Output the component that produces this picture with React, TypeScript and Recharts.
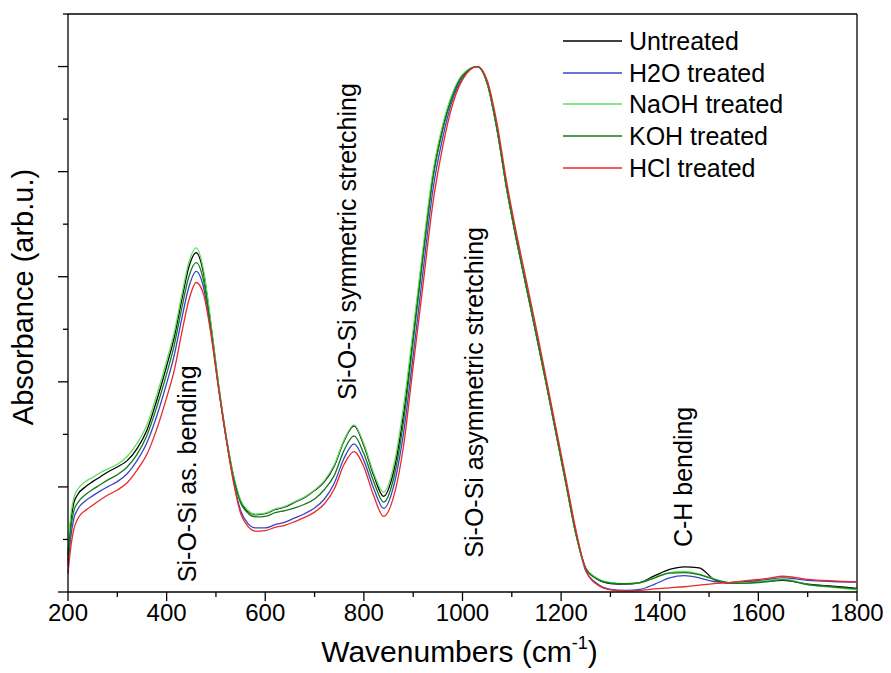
import React from 'react';
import { LineChart, Line, XAxis, YAxis, ReferenceLine, ReferenceDot, Label } from 'recharts';

const FONT = 'Arial, "Liberation Sans", sans-serif';

// wavenumber grid (cm-1)
const wavenumbers = [
  200, 205, 212, 220, 235, 250, 265, 280, 300, 320, 340, 360, 380, 400, 415, 430, 445, 460, 475, 490,
  505, 520, 535, 550, 565, 580, 600, 620, 640, 660, 680, 700, 720, 740, 760, 780, 800, 820, 840, 860,
  880, 900, 920, 940, 960, 980, 1000, 1030, 1050, 1070, 1090, 1110, 1130, 1150, 1170, 1190, 1210, 1230, 1250, 1270,
  1300, 1330, 1360, 1390, 1420, 1450, 1480, 1510, 1540, 1580, 1620, 1650, 1700, 1750, 1800,
];

const untreated = [
  0.07, 0.13, 0.17, 0.186, 0.2, 0.21, 0.219, 0.228, 0.238, 0.25, 0.273, 0.308, 0.365, 0.43, 0.483, 0.553, 0.618, 0.646, 0.606, 0.507,
  0.396, 0.3, 0.223, 0.173, 0.153, 0.147, 0.149, 0.157, 0.162, 0.171, 0.18, 0.193, 0.21, 0.24, 0.288, 0.316, 0.279, 0.222, 0.182, 0.228,
  0.336, 0.487, 0.645, 0.792, 0.885, 0.946, 0.983, 1.0, 0.968, 0.88, 0.765, 0.667, 0.577, 0.487, 0.395, 0.3, 0.205, 0.11, 0.045, 0.027,
  0.016, 0.015, 0.018, 0.031, 0.043, 0.048, 0.046, 0.024, 0.017, 0.018, 0.021, 0.022, 0.015, 0.011, 0.007,
];

const h2o = [
  0.05, 0.1, 0.14, 0.158, 0.173, 0.183, 0.192, 0.2, 0.21, 0.225, 0.25, 0.284, 0.335, 0.397, 0.449, 0.517, 0.58, 0.61, 0.579, 0.494,
  0.39, 0.296, 0.215, 0.155, 0.13, 0.122, 0.122, 0.128, 0.133, 0.141, 0.149, 0.16, 0.177, 0.207, 0.255, 0.282, 0.25, 0.197, 0.159, 0.2,
  0.3, 0.45, 0.61, 0.765, 0.865, 0.937, 0.978, 1.0, 0.97, 0.882, 0.768, 0.67, 0.58, 0.49, 0.398, 0.303, 0.208, 0.112, 0.04, 0.018,
  0.005, 0.003, 0.005, 0.015, 0.027, 0.031, 0.027, 0.02, 0.018, 0.02, 0.024, 0.027, 0.022, 0.02, 0.019,
];

const naoh = [
  0.08, 0.14, 0.18, 0.196, 0.21, 0.218, 0.227, 0.234, 0.243, 0.258, 0.283, 0.318, 0.375, 0.44, 0.492, 0.562, 0.627, 0.655, 0.612, 0.51,
  0.398, 0.302, 0.225, 0.175, 0.155, 0.148, 0.15, 0.158, 0.163, 0.172, 0.181, 0.194, 0.212, 0.242, 0.29, 0.318, 0.282, 0.226, 0.19, 0.238,
  0.35, 0.5, 0.655, 0.8, 0.89, 0.95, 0.985, 1.0, 0.968, 0.88, 0.765, 0.667, 0.577, 0.487, 0.395, 0.3, 0.205, 0.11, 0.045, 0.028,
  0.018, 0.016, 0.018, 0.028, 0.037, 0.039, 0.034, 0.025, 0.018, 0.018, 0.022, 0.025, 0.014, 0.009, 0.004,
];

const koh = [
  0.06, 0.115, 0.155, 0.17, 0.185, 0.195, 0.204, 0.213, 0.223, 0.238, 0.262, 0.298, 0.352, 0.415, 0.468, 0.537, 0.6, 0.627, 0.592, 0.5,
  0.392, 0.297, 0.22, 0.17, 0.15, 0.143, 0.144, 0.151, 0.155, 0.16, 0.167, 0.177, 0.195, 0.222, 0.27, 0.297, 0.263, 0.21, 0.171, 0.215,
  0.322, 0.478, 0.637, 0.786, 0.88, 0.944, 0.982, 1.0, 0.969, 0.881, 0.766, 0.668, 0.578, 0.488, 0.396, 0.301, 0.206, 0.111, 0.045, 0.026,
  0.017, 0.016, 0.018, 0.027, 0.036, 0.037, 0.033, 0.024, 0.018, 0.017, 0.02, 0.023, 0.014, 0.01, 0.006,
];

const hcl = [
  0.035, 0.08, 0.12, 0.14, 0.155, 0.165, 0.175, 0.184, 0.194, 0.208, 0.232, 0.262, 0.31, 0.37, 0.42, 0.49, 0.555, 0.589, 0.566, 0.49,
  0.39, 0.297, 0.212, 0.15, 0.125, 0.116, 0.117, 0.123, 0.127, 0.134, 0.142, 0.152, 0.168, 0.196, 0.243, 0.267, 0.238, 0.183, 0.144, 0.18,
  0.275, 0.43, 0.585, 0.74, 0.848, 0.928, 0.975, 1.0, 0.974, 0.892, 0.778, 0.68, 0.59, 0.5, 0.405, 0.31, 0.215, 0.118, 0.042, 0.016,
  0.004, 0.002, 0.003, 0.006, 0.008, 0.01, 0.013, 0.016, 0.018, 0.022, 0.026, 0.03, 0.024, 0.021, 0.019,
];

const series = [
  { key: 'untreated', name: 'Untreated', color: '#000000', values: untreated },
  { key: 'h2o', name: 'H2O treated', color: '#3a44c4', values: h2o },
  { key: 'naoh', name: 'NaOH treated', color: '#5ee05e', values: naoh },
  { key: 'koh', name: 'KOH treated', color: '#137a17', values: koh },
  { key: 'hcl', name: 'HCl treated', color: '#e8282a', values: hcl },
];

const xTicks = [200, 300, 400, 500, 600, 700, 800, 900, 1000, 1100, 1200, 1300, 1400, 1500, 1600, 1700, 1800];
const yTicks = [0, 0.1, 0.2, 0.3, 0.4, 0.5, 0.6, 0.7, 0.8, 0.9, 1.0, 1.1];

const annotations = [
  { text: 'Si-O-Si as. bending', wn: 441, level: 0.225 },
  { text: 'Si-O-Si symmetric stretching', wn: 766, level: 0.667 },
  { text: 'Si-O-Si asymmetric stretching', wn: 1023, level: 0.38 },
  { text: 'C-H bending', wn: 1447, level: 0.219 },
];

const data = wavenumbers.map((wn, i) => {
  const row: any = { wn };
  series.forEach((s) => {
    row[s.key] = s.values[i];
  });
  return row;
});

function XTick(props: any) {
  const { x, y, payload } = props;
  const major = payload.value % 200 === 0;
  return (
    <g>
      <line x1={x} x2={x} y1={y} y2={y + (major ? 9 : 5)} stroke="#000" strokeWidth={1.3} />
      {major && (
        <text x={x} y={y + 29} textAnchor="middle" fontSize={24} fontFamily={FONT} fill="#000">
          {payload.value}
        </text>
      )}
    </g>
  );
}

function YTick(props: any) {
  const { x, y, payload } = props;
  const major = Math.round(payload.value * 10) % 2 === 0;
  return <line x1={x - (major ? 10 : 5)} x2={x} y1={y} y2={y} stroke="#000" strokeWidth={1.3} />;
}

function XTitle(props: any) {
  const vb = props.viewBox;
  return (
    <text x={vb.x + vb.width / 2 - 3} y={662} textAnchor="middle" fontSize={30} fontFamily={FONT} fill="#000">
      Wavenumbers (cm
      <tspan fontSize={18} dy={-13}>-1</tspan>
      <tspan dy={13}>)</tspan>
    </text>
  );
}

function YTitle(props: any) {
  const vb = props.viewBox;
  const cx = vb.x + 33;
  const cy = 297;
  return (
    <text x={cx} y={cy} transform={`rotate(-90 ${cx} ${cy})`} textAnchor="middle" fontSize={29} fontFamily={FONT} fill="#000">
      Absorbance (arb.u.)
    </text>
  );
}

function AnnotationText(text: string) {
  return (props: any) => {
    const { cx, cy } = props;
    return (
      <text x={cx} y={cy} dy="0.36em" transform={`rotate(-90 ${cx} ${cy})`} textAnchor="middle" fontSize={25} fontFamily={FONT} fill="#000">
        {text}
      </text>
    );
  };
}

function LegendBox() {
  return (
    <div style={{ position: 'absolute', left: 563, top: 25, fontFamily: FONT }}>
      {series.map((s) => (
        <div key={s.key} style={{ display: 'flex', alignItems: 'center', height: 31.7 }}>
          <svg width={59} height={6} style={{ display: 'block' }}>
            <line x1={0} x2={59} y1={3} y2={3} stroke={s.color} strokeWidth={1.6} />
          </svg>
          <span style={{ marginLeft: 7, fontSize: 25, lineHeight: '28px', color: '#000' }}>{s.name}</span>
        </div>
      ))}
    </div>
  );
}

export default function App() {
  return (
    <div style={{ position: 'absolute', left: 0, top: 0, width: 891, height: 673, background: '#fff' }}>
      <LineChart width={891} height={673} data={data} margin={{ top: 14, right: 34, left: 0, bottom: 0 }}>
        <XAxis
          dataKey="wn"
          type="number"
          domain={[200, 1800]}
          ticks={xTicks}
          interval={0}
          height={81}
          tickSize={0}
          tickMargin={0}
          tickLine={false}
          tick={(p: any) => <XTick {...p} />}
          axisLine={{ stroke: '#000', strokeWidth: 1.3 }}
        >
          <Label content={(p: any) => <XTitle {...p} />} />
        </XAxis>
        <YAxis
          type="number"
          domain={[0, 1.1]}
          ticks={yTicks}
          interval={0}
          width={68}
          tickSize={0}
          tickMargin={0}
          tickLine={false}
          tick={(p: any) => <YTick {...p} />}
          axisLine={{ stroke: '#000', strokeWidth: 1.3 }}
        >
          <Label content={(p: any) => <YTitle {...p} />} />
        </YAxis>
        <ReferenceLine y={1.1} stroke="#000" strokeWidth={1.3} />
        <ReferenceLine x={1800} stroke="#000" strokeWidth={1.3} />
        {series.map((s) => (
          <Line
            key={s.key}
            type="monotone"
            dataKey={s.key}
            name={s.name}
            stroke={s.color}
            strokeWidth={1.3}
            dot={false}
            activeDot={false}
            isAnimationActive={false}
          />
        ))}
        {annotations.map((a) => (
          <ReferenceDot key={a.text} x={a.wn} y={a.level} r={1} shape={AnnotationText(a.text)} />
        ))}
      </LineChart>
      <LegendBox />
    </div>
  );
}
